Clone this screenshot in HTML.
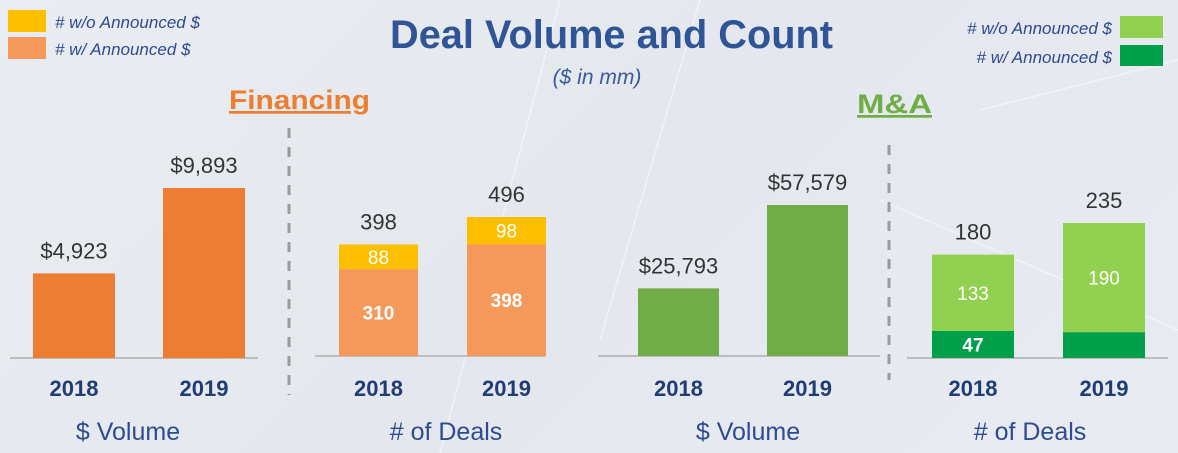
<!DOCTYPE html>
<html><head><meta charset="utf-8"><style>
html,body{margin:0;padding:0;}
body{width:1178px;height:453px;overflow:hidden;background:linear-gradient(135deg,#e9ecf0 0%,#e4e8ee 50%,#e8ecf2 100%);font-family:"Liberation Sans",sans-serif;}
svg{display:block;}
</style></head><body>
<svg id="chart" width="1178" height="453" viewBox="0 0 1178 453">
<g stroke="#ffffff" stroke-opacity="0.45" stroke-width="1.5" fill="none">
<line x1="560" y1="0" x2="440" y2="453"/><line x1="700" y1="0" x2="600" y2="340"/><line x1="980" y1="110" x2="1178" y2="60"/><line x1="880" y1="200" x2="1178" y2="330"/>
</g>
<text x="390" y="48" textLength="443" lengthAdjust="spacingAndGlyphs" font-family="Liberation Sans Narrow, Liberation Sans, sans-serif" font-weight="bold" font-size="40" fill="#2f5597">Deal Volume and Count</text>
<text x="597" y="84" text-anchor="middle" font-style="italic" font-size="21" fill="#3b5a9a" font-family="Liberation Sans Narrow, Liberation Sans, sans-serif">($ in mm)</text>
<g>
<rect x="8" y="10" width="38" height="22" fill="#fbbf00"/>
<text x="55" y="28" font-style="italic" font-size="17" fill="#2e4b8f">#  w/o Announced $</text>
<rect x="8" y="37" width="38" height="22" fill="#f4995a"/>
<text x="55" y="55" font-style="italic" font-size="17" fill="#2e4b8f">#  w/ Announced $</text>
</g>
<g>
<text x="1112" y="34" text-anchor="end" font-style="italic" font-size="17" fill="#2e4b8f" font-family="Liberation Sans Narrow, Liberation Sans, sans-serif">#  w/o Announced $</text>
<rect x="1120" y="16" width="43" height="22" fill="#92d050"/>
<text x="1112" y="63" text-anchor="end" font-style="italic" font-size="17" fill="#2e4b8f" font-family="Liberation Sans Narrow, Liberation Sans, sans-serif">#  w/ Announced $</text>
<rect x="1120" y="45" width="43" height="21" fill="#00a04a"/>
</g>
<text x="229" y="109" font-weight="bold" font-size="27" fill="#ed7d31" text-decoration="underline" textLength="141" lengthAdjust="spacingAndGlyphs">Financing</text>
<text x="857" y="113" font-weight="bold" font-size="27" fill="#70ad47" text-decoration="underline" textLength="75" lengthAdjust="spacingAndGlyphs">M&amp;A</text>
<line x1="289" y1="128" x2="289" y2="395" stroke="#9a9a9a" stroke-width="3" stroke-dasharray="10,9"/>
<line x1="889" y1="145" x2="889" y2="380" stroke="#9a9a9a" stroke-width="3" stroke-dasharray="10,9"/>
<g id="plots"></g>
</svg>
<script>
const years = ["2018","2019"];
const finVolume = [4923, 9893];
const finVolumeLabels = ["$4,923","$9,893"];
const finDealsWith = [310, 398];
const finDealsWithout = [88, 98];
const maVolume = [25793, 57579];
const maVolumeLabels = ["$25,793","$57,579"];
const maDealsWith = [47, 45];
const maDealsWithout = [133, 190];
const maDealsWithLabels = ["47",""];

const NS = "http://www.w3.org/2000/svg";
const root = document.getElementById("plots");
function mk(tag, attrs, parent){const e=document.createElementNS(NS,tag);for(const k in attrs)e.setAttribute(k,attrs[k]);(parent||root).appendChild(e);return e;}
function txt(s, attrs, name){const t=mk("text",attrs);t.textContent=s;

return t;}

const panels = [
 {key:"fin-volume", axis:[10,258], base:358, bars:[33,163], w:82, scale:170/9893, stacks:[finVolume], colors:["#ed7d31"], totals:finVolumeLabels, inner:null, title:"$ Volume", titleX:128},
 {key:"fin-deals", axis:[315,545], base:356, bars:[339,467], w:79, scale:139/496, stacks:[finDealsWith, finDealsWithout], colors:["#f4995a","#fbbf00"], totals:null, inner:[finDealsWith.map(String), finDealsWithout.map(String)], title:"# of Deals", titleX:446},
 {key:"ma-volume", axis:[598,880], base:356, bars:[638,767], w:81, scale:151/57579, stacks:[maVolume], colors:["#70ad47"], totals:maVolumeLabels, inner:null, title:"$ Volume", titleX:748},
 {key:"ma-deals", axis:[907,1168], base:358, bars:[932,1063], w:82, scale:135/235, stacks:[maDealsWith, maDealsWithout], colors:["#00a04a","#92d050"], totals:null, inner:[maDealsWithLabels, maDealsWithout.map(String)], title:"# of Deals", titleX:1030}
];

panels.forEach(p=>{
  const yScale = v => v*p.scale;
  const ax = mk("line",{x1:p.axis[0],y1:p.base,x2:p.axis[1],y2:p.base,stroke:"#bdbdbd","stroke-width":2});
  
  
  years.forEach((yr,i)=>{
    const x = p.bars[i];
    let acc = 0;
    p.stacks.forEach((series,s)=>{
      const h = yScale(series[i]);
      const r = mk("rect",{x:x,y:p.base-acc-h,width:p.w,height:h,fill:p.colors[s]});
      
      
      if(p.inner && p.inner[s][i]!==""){
        txt(p.inner[s][i],{x:x+p.w/2,y:p.base-acc-h/2+7,"text-anchor":"middle","font-size":19,fill:"#ffffff","font-weight":s===0?"bold":"normal"}, p.key+'-value-'+yr+'-'+s);
      }
      acc += h;
    });
    let total = 0; p.stacks.forEach(sr=>total+=sr[i]);
    const label = p.totals ? p.totals[i] : String(total);
    txt(label,{x:x+p.w/2,y:p.base-acc-15,"text-anchor":"middle","font-size":22,fill:"#333333"}, p.key+'-total-'+yr);
    txt(yr,{x:x+p.w/2,y:396,"text-anchor":"middle","font-size":22,"font-weight":"bold",fill:"#1f3d73"}, p.key+'-year-'+yr);
  });
  txt(p.title,{x:p.titleX,y:440,"text-anchor":"middle","font-size":25,fill:"#2e4b8f"}, p.key+'-axis-title');
});
</script>
</body></html>
